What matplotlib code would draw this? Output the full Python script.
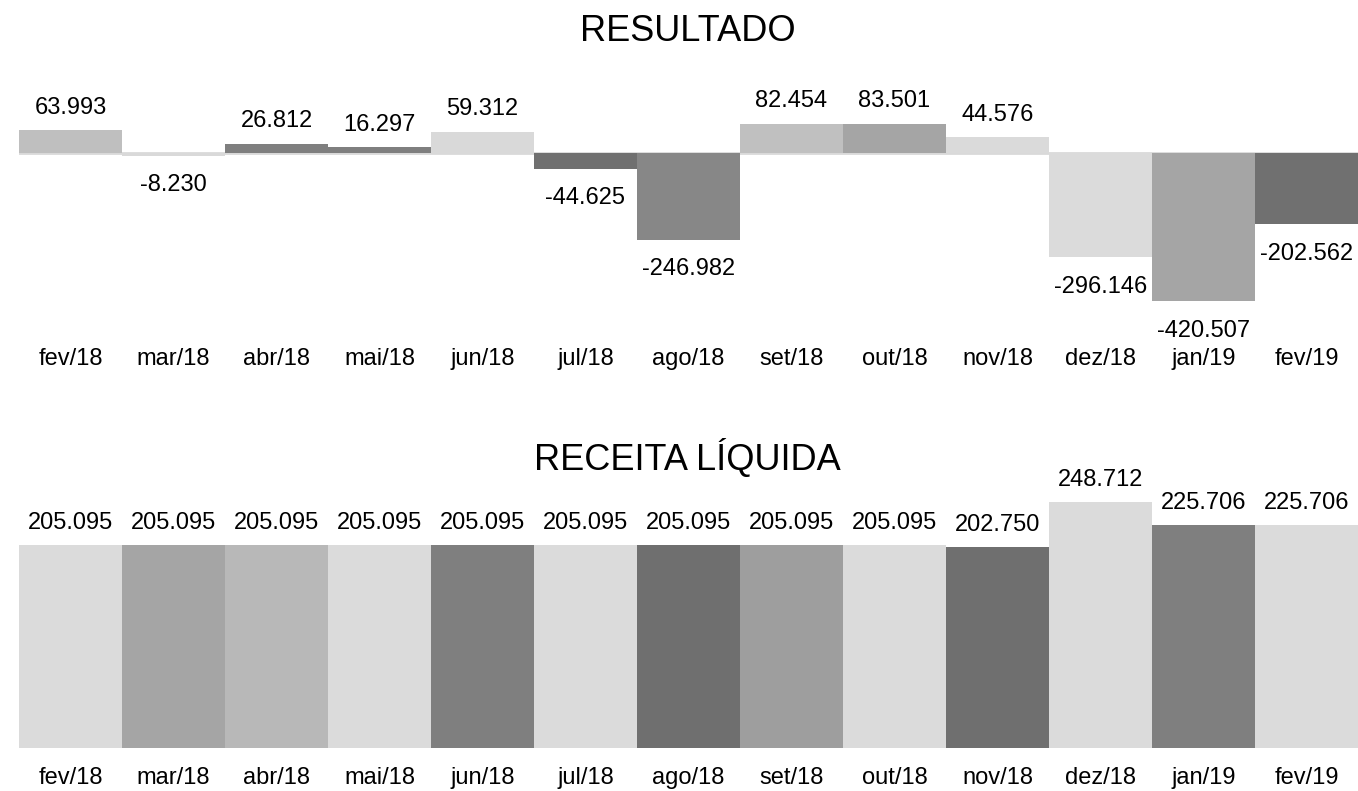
import matplotlib
matplotlib.use("Agg")
import matplotlib.pyplot as plt

plt.rcParams['font.family'] = ['Liberation Sans', 'DejaVu Sans']

months = ["fev/18", "mar/18", "abr/18", "mai/18", "jun/18", "jul/18", "ago/18",
          "set/18", "out/18", "nov/18", "dez/18", "jan/19", "fev/19"]

resultado = [63993, -8230, 26812, 16297, 59312, -44625, -246982,
             82454, 83501, 44576, -296146, -420507, -202562]

receita = [205095, 205095, 205095, 205095, 205095, 205095, 205095,
           205095, 205095, 202750, 248712, 225706, 225706]

colors_res = ["#bfbfbf", "#d9d9d9", "#7f7f7f", "#7f7f7f", "#d9d9d9", "#707070", "#878787",
              "#c0c0c0", "#a5a5a5", "#dadada", "#dbdbdb", "#a5a5a5", "#707070"]

colors_rec = ["#dbdbdb", "#a5a5a5", "#b8b8b8", "#dbdbdb", "#7f7f7f", "#dbdbdb", "#6f6f6f",
              "#9e9e9e", "#dbdbdb", "#6f6f6f", "#dbdbdb", "#7f7f7f", "#dbdbdb"]


def fmt(v):
    return f"{v:,.0f}".replace(",", ".")


W, H = 1358, 791
fig = plt.figure(figsize=(W / 100, H / 100), dpi=100)

left = 19 / W
width = (1358 - 19) / W

# top axes: pixel 107 -> 308
ax1 = fig.add_axes([left, 1 - 308 / H, width, (308 - 107.2) / H])
# bottom axes: pixel 490.6 -> 748
ax2 = fig.add_axes([left, 1 - 748 / H, width, (748 - 490.6) / H])

x = list(range(len(months)))

ax1.axhline(0, color="#d9d9d9", lw=2, zorder=1)
ax1.bar(x, resultado, width=1.0, color=colors_res, zorder=2)
ax1.set_xlim(-0.5, len(months) - 0.5)
ax1.set_ylim(-440000, 130000)
for xi, v in zip(x, resultado):
    if v >= 0:
        ax1.annotate(fmt(v), (xi, v), xytext=(0, 12), textcoords="offset points",
                     ha="center", va="baseline", fontsize=17)
    else:
        ax1.annotate(fmt(v), (xi, v), xytext=(0, -25.5), textcoords="offset points",
                     ha="center", va="baseline", fontsize=17)

ax2.axhline(0, color="#d9d9d9", lw=2.5, zorder=1)
ax2.bar(x, receita, width=1.0, color=colors_rec, zorder=2)
ax2.set_xlim(-0.5, len(months) - 0.5)
ax2.set_ylim(0, 260000)
for xi, v in zip(x, receita):
    ax2.annotate(fmt(v), (xi, v), xytext=(0, 11.5), textcoords="offset points",
                 ha="center", va="baseline", fontsize=17)

for ax, pad in ((ax1, 28.5), (ax2, 14)):
    ax.set_xticks(x)
    ax.set_xticklabels(months, fontsize=17)
    ax.tick_params(axis="x", length=0, pad=pad)
    ax.set_yticks([])
    for s in ax.spines.values():
        s.set_visible(False)
    ax.set_facecolor("none")

fig.text(687.5 / W, 1 - 41 / H, "RESULTADO", ha="center", va="baseline", fontsize=26)
fig.text(687.5 / W, 1 - 470 / H, "RECEITA LÍQUIDA", ha="center", va="baseline", fontsize=26)

fig.savefig("out.png", dpi=100)
